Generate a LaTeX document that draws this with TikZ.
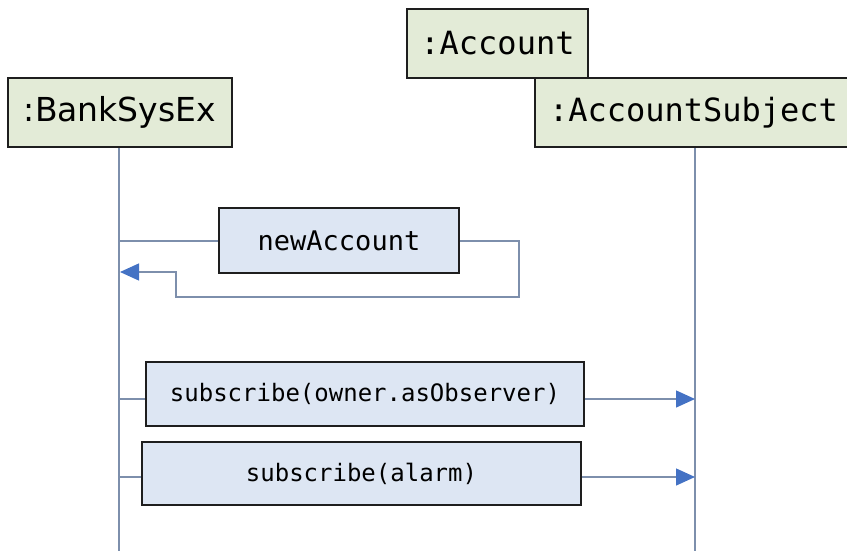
\documentclass[tikz,border=0pt]{standalone}
\usepackage{fontspec}
\setmainfont{DejaVu Sans}
\setmonofont{DejaVu Sans Mono}
\usetikzlibrary{arrows.meta}
\definecolor{hdrfill}{HTML}{E3EBD7}
\definecolor{msgfill}{HTML}{DDE6F3}
\definecolor{lifec}{HTML}{7D8FAC}
\definecolor{arrc}{HTML}{4472C4}
\definecolor{bordc}{HTML}{1E1E1E}
\tikzset{
  hdr/.style={draw=bordc, line width=1.6pt, fill=hdrfill, inner sep=0pt, minimum height=69pt},
  msgbox/.style={draw=bordc, line width=1.6pt, fill=msgfill, inner sep=0pt},
  lifeline/.style={draw=lifec, line width=1.6pt},
  conn/.style={draw=lifec, line width=1.4pt},
  tip/.style={-{Triangle[length=19pt,width=17pt,color=arrc]}}
}
\begin{document}
\begin{tikzpicture}[x=1pt,y=-1pt]
\useasboundingbox (0,0) rectangle (847,551);
% lifelines
\coordinate (bTop) at (119,147);
\coordinate (bBot) at (119,553);
\coordinate (sTop) at (695,147);
\coordinate (sBot) at (695,553);
\draw[lifeline] (bTop) -- (bBot);
\draw[lifeline] (sTop) -- (sBot);
% headers
\node[hdr, minimum width=181pt] (acc) at (497.5,43.5) {\fontsize{32}{38}\selectfont\ttfamily :Account};
\node[hdr, minimum width=317pt] (accsub) at (693.5,112.5) {\fontsize{32}{38}\selectfont\ttfamily :AccountSubject};
\node[hdr, minimum width=224pt] (bank) at (120,112.5) {\fontsize{33}{38}\selectfont :BankSysEx};
% messages
\node[msgbox, minimum width=240pt, minimum height=65pt] (na) at (339,240.5) {\fontsize{27}{32}\selectfont\ttfamily newAccount};
\node[msgbox, minimum width=438pt, minimum height=64pt] (s1) at (365,394) {\fontsize{24}{30}\selectfont\ttfamily subscribe(owner.asObserver)};
\node[msgbox, minimum width=439pt, minimum height=63pt] (s2) at (361.5,473.5) {\fontsize{24}{30}\selectfont\ttfamily subscribe(alarm)};
% newAccount self call
\coordinate (naL) at (119,241);
\coordinate (naR) at (519,241);
\coordinate (naRB) at (519,297);
\coordinate (naLB) at (176,297);
\coordinate (naLU) at (176,272);
\coordinate (naT) at (120,272);
\draw[conn] (naL) -- (na.west |- naL);
\draw[conn, tip] (na.east |- naR) -- (naR) -- (naRB) -- (naLB) -- (naLU) -- (naT);
% subscribe 1
\coordinate (s1L) at (119,399);
\coordinate (s1R) at (695,399);
\draw[conn] (s1L) -- (s1.west |- s1L);
\draw[conn, tip] (s1.east |- s1R) -- (s1R);
% subscribe 2
\coordinate (s2L) at (119,477);
\coordinate (s2R) at (695,477);
\draw[conn] (s2L) -- (s2.west |- s2L);
\draw[conn, tip] (s2.east |- s2R) -- (s2R);
\end{tikzpicture}
\end{document}
